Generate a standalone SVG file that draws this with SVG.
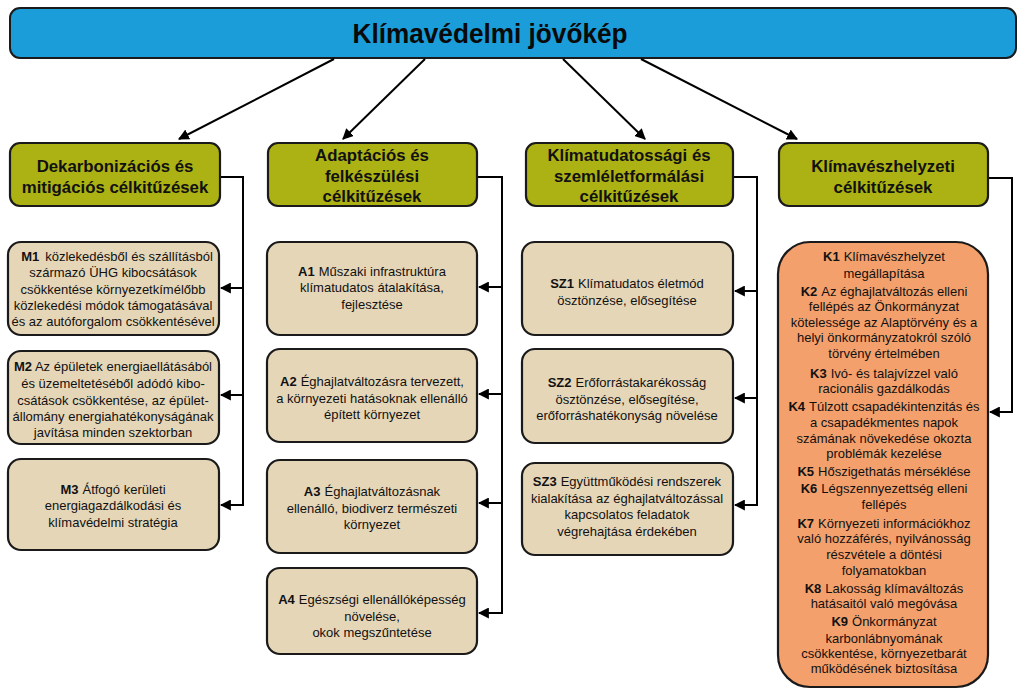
<svg xmlns="http://www.w3.org/2000/svg" width="1024" height="697" viewBox="0 0 1024 697">
<defs>
<marker id="ah" viewBox="0 0 10 10" refX="9" refY="5" markerWidth="5.5" markerHeight="5.5" orient="auto" markerUnits="strokeWidth">
<path d="M0,0 L10,5 L0,10 z" fill="#000"/>
</marker>
</defs>
<style>
.banner{fill:#1B9DD9;stroke:#1a1a1a;stroke-width:2}
.hdr{fill:#ADB214;stroke:#1a1a1a;stroke-width:2.2}
.box{fill:#E6D6B8;stroke:#1a1a1a;stroke-width:2.2}
.kbox{fill:#F4A06C;stroke:#1a1a1a;stroke-width:2.2}
.title{font-family:"Liberation Sans",Arial,sans-serif;font-weight:bold;font-size:28px;fill:#0a0a0a;text-anchor:middle}
.ht{font-family:"Liberation Sans",Arial,sans-serif;font-weight:bold;font-size:16.8px;fill:#111;text-anchor:middle}
.bt{font-family:"Liberation Sans",Arial,sans-serif;font-size:13px;fill:#111;text-anchor:middle}
.b{font-weight:bold}
.con{fill:none;stroke:#000;stroke-width:2}
.arr{fill:none;stroke:#000;stroke-width:2;marker-end:url(#ah)}
</style>
<rect width="1024" height="697" fill="#fff"/>

<g id="vision">
<rect class="banner" x="10" y="8" width="1006" height="50" rx="10"/>
<text class="title" x="490" y="43" textLength="275" lengthAdjust="spacingAndGlyphs">Klímavédelmi jövőkép</text>
</g>

<g id="connectors">
<line class="arr" x1="334" y1="59" x2="179" y2="139"/>
<line class="arr" x1="425" y1="59" x2="343" y2="139"/>
<line class="arr" x1="563" y1="59" x2="645" y2="139"/>
<line class="arr" x1="641" y1="59" x2="797" y2="139"/>
<path class="con" d="M220,177 H243 V505"/>
<line class="arr" x1="243" y1="288" x2="221" y2="288"/>
<line class="arr" x1="243" y1="395" x2="221" y2="395"/>
<line class="arr" x1="244" y1="505" x2="221" y2="505"/>
<path class="con" d="M477,177 H502 V613"/>
<line class="arr" x1="502" y1="287" x2="479" y2="287"/>
<line class="arr" x1="502" y1="394" x2="479" y2="394"/>
<line class="arr" x1="502" y1="503" x2="479" y2="503"/>
<line class="arr" x1="503" y1="613" x2="479" y2="613"/>
<path class="con" d="M733,177 H757 V505"/>
<line class="arr" x1="757" y1="291" x2="735" y2="291"/>
<line class="arr" x1="757" y1="398" x2="735" y2="398"/>
<line class="arr" x1="758" y1="505" x2="735" y2="505"/>
<path class="con" d="M988,178 H1012 V412"/>
<line class="arr" x1="1013" y1="412" x2="990" y2="412"/>
</g>

<g id="h1">
<rect class="hdr" x="10" y="143" width="210" height="63" rx="10"/>
<text class="ht" x="115" y="172">Dekarbonizációs és</text>
<text class="ht" x="115" y="193">mitigációs célkitűzések</text>
</g>
<g id="h2">
<rect class="hdr" x="268" y="143" width="209" height="63" rx="10"/>
<text class="ht" x="372" y="161">Adaptációs és</text>
<text class="ht" x="372" y="182">felkészülési</text>
<text class="ht" x="372" y="202">célkitűzések</text>
</g>
<g id="h3">
<rect class="hdr" x="526" y="143" width="207" height="63" rx="10"/>
<text class="ht" x="629" y="161">Klímatudatossági és</text>
<text class="ht" x="629" y="182">szemléletformálási</text>
<text class="ht" x="629" y="202">célkitűzések</text>
</g>
<g id="h4">
<rect class="hdr" x="779" y="143" width="209" height="63" rx="10"/>
<text class="ht" x="883" y="172">Klímavészhelyzeti</text>
<text class="ht" x="883" y="193">célkitűzések</text>
</g>

<g id="M1">
<rect class="box" x="8" y="242" width="211" height="93" rx="13"/>
<text class="bt" x="117" y="261"><tspan class="b">M1</tspan><tspan dx="6">közlekedésből és szállításból</tspan></text>
<text class="bt" x="113" y="277">származó ÜHG kibocsátások</text>
<text class="bt" x="113" y="294">csökkentése környezetkímélőbb</text>
<text class="bt" x="113" y="310">közlekedési módok támogatásával</text>
<text class="bt" x="113" y="326">és az autóforgalom csökkentésével</text>
</g>
<g id="M2">
<rect class="box" x="8" y="351" width="211" height="93" rx="13"/>
<text class="bt" x="113" y="371"><tspan class="b">M2</tspan> Az épületek energiaellátásából</text>
<text class="bt" x="113" y="388">és üzemeltetéséből adódó kibo-</text>
<text class="bt" x="113" y="405">csátások csökkentése, az épület-</text>
<text class="bt" x="113" y="421">állomány energiahatékonyságának</text>
<text class="bt" x="113" y="437">javítása minden szektorban</text>
</g>
<g id="M3">
<rect class="box" x="8" y="459" width="211" height="91" rx="13"/>
<text class="bt" x="113" y="494"><tspan class="b">M3</tspan><tspan dx="4">Átfogó kerületi</tspan></text>
<text class="bt" x="113" y="510">energiagazdálkodási és</text>
<text class="bt" x="113" y="527">klímavédelmi stratégia</text>
</g>

<g id="A1">
<rect class="box" x="267" y="242" width="210" height="93" rx="13"/>
<text class="bt" x="372" y="276"><tspan class="b">A1</tspan><tspan dx="4">Műszaki infrastruktúra</tspan></text>
<text class="bt" x="372" y="292">klímatudatos átalakítása,</text>
<text class="bt" x="372" y="309">fejlesztése</text>
</g>
<g id="A2">
<rect class="box" x="267" y="349" width="210" height="93" rx="13"/>
<text class="bt" x="372" y="386"><tspan class="b">A2</tspan><tspan dx="4">Éghajlatváltozásra tervezett,</tspan></text>
<text class="bt" x="372" y="403">a környezeti hatásoknak ellenálló</text>
<text class="bt" x="372" y="419">épített környezet</text>
</g>
<g id="A3">
<rect class="box" x="267" y="460" width="210" height="93" rx="13"/>
<text class="bt" x="372" y="496"><tspan class="b">A3</tspan><tspan dx="4">Éghajlatváltozásnak</tspan></text>
<text class="bt" x="372" y="513">ellenálló, biodiverz természeti</text>
<text class="bt" x="372" y="529">környezet</text>
</g>
<g id="A4">
<rect class="box" x="267" y="568" width="210" height="86" rx="13"/>
<text class="bt" x="372" y="604"><tspan class="b">A4</tspan><tspan dx="4">Egészségi ellenállóképesség</tspan></text>
<text class="bt" x="372" y="621">növelése,</text>
<text class="bt" x="372" y="637">okok megszűntetése</text>
</g>

<g id="SZ1">
<rect class="box" x="522" y="242" width="211" height="93" rx="13"/>
<text class="bt" x="627" y="288"><tspan class="b">SZ1</tspan><tspan dx="4">Klímatudatos életmód</tspan></text>
<text class="bt" x="627" y="305">ösztönzése, elősegítése</text>
</g>
<g id="SZ2">
<rect class="box" x="522" y="349" width="211" height="94" rx="13"/>
<text class="bt" x="627" y="387"><tspan class="b">SZ2</tspan><tspan dx="4">Erőforrástakarékosság</tspan></text>
<text class="bt" x="627" y="404">ösztönzése, elősegítése,</text>
<text class="bt" x="627" y="420">erőforráshatékonyság növelése</text>
</g>
<g id="SZ3">
<rect class="box" x="522" y="463" width="211" height="92" rx="13"/>
<text class="bt" x="627" y="486"><tspan class="b">SZ3</tspan><tspan dx="4">Együttműködési rendszerek</tspan></text>
<text class="bt" x="627" y="503">kialakítása az éghajlatváltozással</text>
<text class="bt" x="627" y="519">kapcsolatos feladatok</text>
<text class="bt" x="627" y="536">végrehajtása érdekében</text>
</g>

<g id="K">
<rect class="kbox" x="778" y="242" width="210" height="445" rx="32"/>
<text class="bt" x="884" y="261"><tspan class="b">K1</tspan><tspan dx="4">Klímavészhelyzet</tspan></text>
<text class="bt" x="884" y="278">megállapítása</text>
<text class="bt" x="884" y="296"><tspan class="b">K2</tspan><tspan dx="4">Az éghajlatváltozás elleni</tspan></text>
<text class="bt" x="884" y="311">fellépés az Önkormányzat</text>
<text class="bt" x="884" y="327">kötelessége az Alaptörvény és a</text>
<text class="bt" x="884" y="342">helyi önkormányzatokról szóló</text>
<text class="bt" x="884" y="358">törvény értelmében</text>
<text class="bt" x="884" y="378"><tspan class="b">K3</tspan><tspan dx="4">Ivó- és talajvízzel való</tspan></text>
<text class="bt" x="884" y="393">racionális gazdálkodás</text>
<text class="bt" x="884" y="411"><tspan class="b">K4</tspan><tspan dx="4">Túlzott csapadékintenzitás és</tspan></text>
<text class="bt" x="884" y="427">a csapadékmentes napok</text>
<text class="bt" x="884" y="443">számának növekedése okozta</text>
<text class="bt" x="884" y="458">problémák kezelése</text>
<text class="bt" x="884" y="476"><tspan class="b">K5</tspan><tspan dx="4">Hőszigethatás mérséklése</tspan></text>
<text class="bt" x="884" y="493"><tspan class="b">K6</tspan><tspan dx="4">Légszennyezettség elleni</tspan></text>
<text class="bt" x="884" y="509">fellépés</text>
<text class="bt" x="884" y="528"><tspan class="b">K7</tspan><tspan dx="4">Környezeti információkhoz</tspan></text>
<text class="bt" x="884" y="543">való hozzáférés, nyilvánosság</text>
<text class="bt" x="884" y="559">részvétele a döntési</text>
<text class="bt" x="884" y="575">folyamatokban</text>
<text class="bt" x="884" y="593"><tspan class="b">K8</tspan><tspan dx="4">Lakosság klímaváltozás</tspan></text>
<text class="bt" x="884" y="608">hatásaitól való megóvása</text>
<text class="bt" x="884" y="626"><tspan class="b">K9</tspan><tspan dx="4">Önkormányzat</tspan></text>
<text class="bt" x="884" y="643">karbonlábnyomának</text>
<text class="bt" x="884" y="658">csökkentése, környezetbarát</text>
<text class="bt" x="884" y="673">működésének biztosítása</text>
</g>
</svg>
